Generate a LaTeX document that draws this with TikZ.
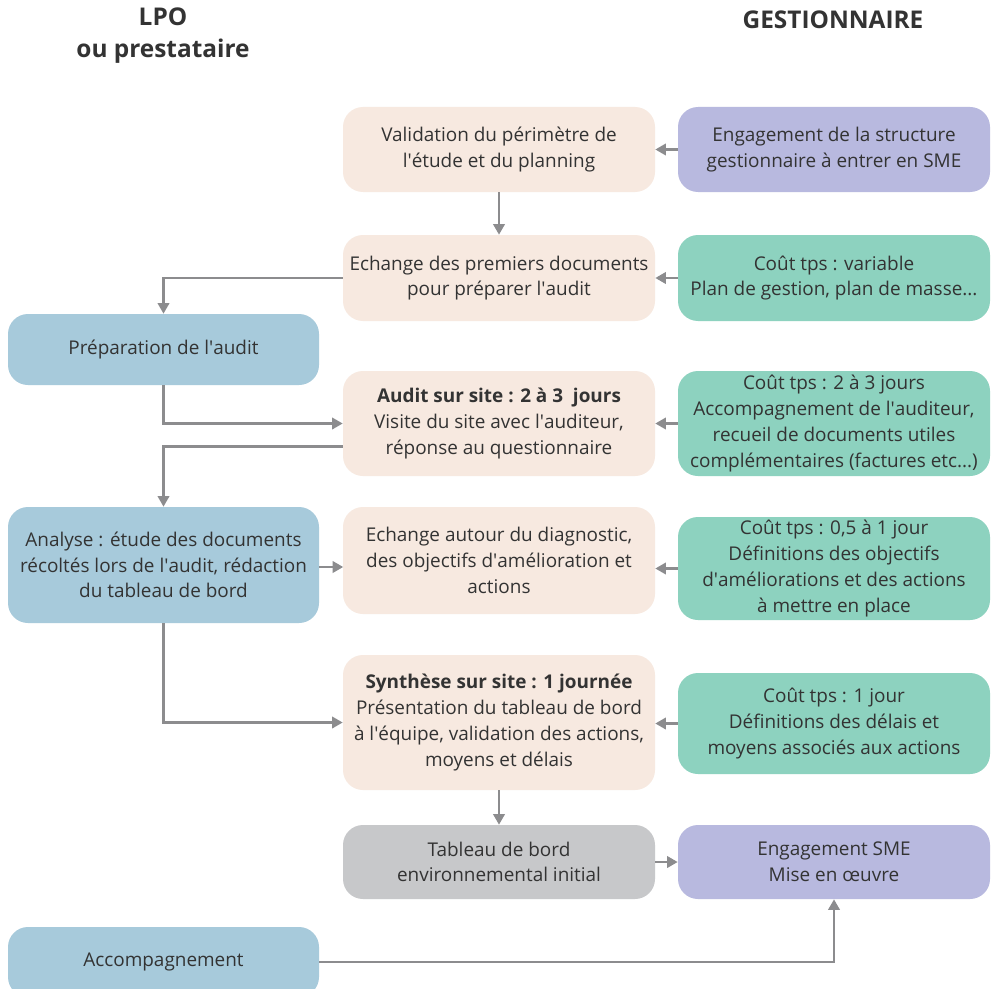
\documentclass[tikz,border=0pt]{standalone}
\usepackage{fontspec}
\setmainfont{Open Sans}
\usetikzlibrary{arrows.meta,calc}
\newcommand\q{\textquotesingle}
\definecolor{peach}{HTML}{F7E9E0}
\definecolor{bluebox}{HTML}{A7CADB}
\definecolor{tealbox}{HTML}{8DD2BF}
\definecolor{lavbox}{HTML}{B8B9DF}
\definecolor{graybox}{HTML}{C7C8CA}
\definecolor{linegray}{HTML}{8C8C8E}
\definecolor{txt}{HTML}{333333}
\tikzset{
  box/.style={rounded corners=15pt, minimum width=234pt, inner sep=1pt, align=center, text=txt,
    font=\fontsize{14.2}{19.3}\selectfont},
  hdr/.style={align=center, text=txt, font=\fontsize{18.3}{24}\selectfont\bfseries},
  arr/.style={draw=linegray, line width=2pt, -{Triangle[length=8pt,width=8.5pt]}},
}
\begin{document}
\begin{tikzpicture}[x=0.75pt,y=-0.75pt]
\useasboundingbox[fill=white] (0,0) rectangle (995,988);
\node[hdr] (h1) at (163,36) {LPO\\ou prestataire};
\node[hdr] (h2) at (833,20) {GESTIONNAIRE};

\node[box, fill=peach, minimum height=63.75pt] (v1) at (499,149.5) {Validation du périmètre de\\l\q étude et du planning};
\node[box, fill=lavbox, minimum height=63.75pt] (e1) at (834,149.5) {Engagement de la structure\\gestionnaire à entrer en SME};
\node[box, fill=peach, minimum height=64.5pt] (v2) at (499,278) {Echange des premiers documents\\pour préparer l\q audit};
\node[box, fill=tealbox, minimum height=64.5pt] (c1) at (834,278) {Coût tps : variable\\Plan de gestion, plan de masse...};
\node[box, fill=bluebox, minimum width=233.25pt, minimum height=53.25pt] (p) at (163.5,349.5) {Préparation de l\q audit};
\node[box, fill=peach, minimum height=78.75pt] (a) at (499,423.5) {\textbf{Audit sur site : 2 à 3\ \ jours}\\Visite du site avec l\q auditeur,\\réponse au questionnaire};
\node[box, fill=tealbox, minimum height=78.75pt] (c2) at (834,423.5) {Coût tps : 2 à 3 jours\\Accompagnement de l\q auditeur,\\recueil de documents utiles\\complémentaires (factures etc...)};
\node[box, fill=bluebox, minimum width=233.25pt, minimum height=87pt] (an) at (163.5,565) {Analyse : étude des documents\\récoltés lors de l\q audit, rédaction\\du tableau de bord};
\node[box, fill=peach, minimum height=80.25pt] (v4) at (499,560.5) {Echange autour du diagnostic,\\des objectifs d\q amélioration et\\actions};
\node[box, fill=tealbox, minimum height=77.25pt] (c3) at (834,568.5) {Coût tps : 0,5 à 1 jour\\Définitions des objectifs\\d\q améliorations et des actions\\à mettre en place};
\node[box, fill=peach, minimum height=101.25pt] (s) at (499,722.5) {\textbf{Synthèse sur site : 1 journée}\\Présentation du tableau de bord\\à l\q équipe, validation des actions,\\moyens et délais};
\node[box, fill=tealbox, minimum height=75.75pt] (c4) at (834,723.5) {Coût tps : 1 jour\\Définitions des délais et\\moyens associés aux actions};
\node[box, fill=graybox, minimum height=55.5pt] (t) at (499,862) {Tableau de bord\\environnemental initial};
\node[box, fill=lavbox, minimum height=55.5pt] (es) at (834,862) {Engagement SME\\Mise en œuvre};
\node[box, fill=bluebox, minimum width=233.25pt, minimum height=52.5pt] (acc) at (163.5,962) {Accompagnement};

\draw[arr] (e1) -- (v1);
\draw[arr] (v1) -- (v2);
\draw[arr] (c1) -- (v2);
\draw[arr] (v2.west) -| (p.north);
\draw[arr] (p.south) |- (a.west);
\draw[arr] (a.west) ++(0,23) -| (an.north);
\draw[arr] (an.east) ++(0,2) -- ++(24,0);
\draw[arr] (c2) -- (a);
\draw[arr] (c3.west) -- (c3.west -| v4.east);
\draw[arr] (an.south) |- (s.west);
\draw[arr] (c4.west) -- (c4.west -| s.east);
\draw[arr] (s) -- (t);
\draw[arr] (t) -- (es);
\draw[arr] (acc.east) -| (es.south);
\end{tikzpicture}
\end{document}
